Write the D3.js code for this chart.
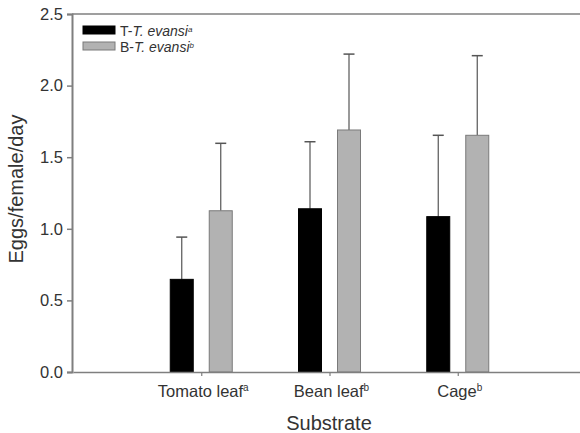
<!DOCTYPE html>
<html>
<head>
<meta charset="utf-8">
<script src="https://cdn.jsdelivr.net/npm/d3@7"></script>
<style>
  body { margin: 0; background: #fff; }
  text { font-family: "Liberation Sans", Arial, sans-serif; fill: #333; }
</style>
</head>
<body>
<svg id="chart" width="580" height="433"></svg>
<script>
// Chart data
const categories = ["Tomato leaf", "Bean leaf", "Cage"];
const catSup = ["a", "b", "b"];
const seriesNames = ["T-", "B-"];
const seriesSup = ["a", "b"];
const tEvansi = [0.647, 1.14, 1.085];
const tEvansiErr = [0.295, 0.468, 0.568];
const bEvansi = [1.126, 1.69, 1.653];
const bEvansiErr = [0.471, 0.53, 0.556];
const yTicks = [0, 0.5, 1.0, 1.5, 2.0, 2.5];

const width = 580;
const height = 433;
const margin = { top: 14, right: 0, bottom: 61, left: 72 };
const axisColor = "#7f7f7f";

const svg = d3.select("#chart");

// Scales: categories sit at positions 1..3 on a 0..4 axis
const xScale = d3.scaleLinear()
    .domain([0, 4])
    .range([margin.left + 1, 586]);

const yScale = d3.scaleLinear()
    .domain([0, 2.5])
    .range([height - margin.bottom, margin.top]);

const barW = 23;
const offset = 19.5;   // half distance between bar centres in a group

const series = [
    { vals: tEvansi, err: tEvansiErr, fill: "#000", stroke: "#000", dx: -offset },
    { vals: bEvansi, err: bEvansiErr, fill: "#b2b2b2", stroke: "#7a7a7a", dx: offset }
];

// Error bars (upper only), drawn behind bars
series.forEach(s => {
    const g = svg.append("g");
    s.vals.forEach((v, i) => {
        const cx = xScale(i + 1) + s.dx;
        g.append("line")
            .attr("x1", cx).attr("x2", cx)
            .attr("y1", yScale(v)).attr("y2", yScale(v + s.err[i]))
            .attr("stroke", "#555").attr("stroke-width", 1.2);
        g.append("line")
            .attr("x1", cx - 5.5).attr("x2", cx + 5.5)
            .attr("y1", yScale(v + s.err[i])).attr("y2", yScale(v + s.err[i]))
            .attr("stroke", "#555").attr("stroke-width", 1.5);
    });
});

// Bars
series.forEach(s => {
    svg.append("g")
        .selectAll("rect")
        .data(s.vals)
        .join("rect")
        .attr("x", (d, i) => xScale(i + 1) + s.dx - barW / 2)
        .attr("y", d => yScale(d))
        .attr("width", barW)
        .attr("height", d => yScale(0) - yScale(d))
        .attr("fill", s.fill)
        .attr("stroke", s.stroke)
        .attr("stroke-width", 1);
});

// Y axis
const yAxis = svg.append("g")
    .attr("transform", `translate(${margin.left},0)`)
    .call(d3.axisLeft(yScale).tickValues(yTicks).tickFormat(d3.format(".1f")).tickSizeOuter(0).tickSize(5).tickPadding(4));
yAxis.select(".domain").attr("stroke", axisColor).attr("stroke-width", 2);
yAxis.selectAll(".tick line").attr("stroke", axisColor).attr("stroke-width", 1.5);
yAxis.selectAll(".tick text").style("font-size", "16.5px").attr("fill", "#333");

// X axis
const xAxis = svg.append("g")
    .attr("transform", `translate(0,${yScale(0)})`)
    .call(d3.axisBottom(xScale).tickValues([1, 2, 3]).tickFormat("").tickSize(4).tickSizeOuter(0));
xAxis.select(".domain").attr("stroke", axisColor).attr("stroke-width", 1.5);
xAxis.selectAll(".tick line").attr("stroke", axisColor).attr("stroke-width", 1.2);

// Top frame line
svg.append("line")
    .attr("x1", margin.left).attr("x2", width)
    .attr("y1", yScale(2.5)).attr("y2", yScale(2.5))
    .attr("stroke", axisColor).attr("stroke-width", 1.5);

// Category labels with superscripts
categories.forEach((c, i) => {
    const t = svg.append("text")
        .attr("x", xScale(i + 1) + 2)
        .attr("y", yScale(0) + 25)
        .attr("text-anchor", "middle")
        .style("font-size", "16.5px");
    t.append("tspan").text(c);
    t.append("tspan").text(catSup[i]).attr("dy", -6).style("font-size", "10px");
});

// Axis titles
svg.append("text")
    .attr("x", 329)
    .attr("y", 430)
    .attr("text-anchor", "middle")
    .style("font-size", "20px")
    .text("Substrate");

svg.append("text")
    .attr("transform", "translate(23,189) rotate(-90)")
    .attr("text-anchor", "middle")
    .style("font-size", "20px")
    .text("Eggs/female/day");

// Legend
const legend = svg.append("g").attr("transform", "translate(83,26)");
series.forEach((s, i) => {
    const g = legend.append("g").attr("transform", `translate(0,${i * 16})`);
    g.append("rect")
        .attr("width", 32).attr("height", 8)
        .attr("fill", s.fill).attr("stroke", s.stroke);
    const t = g.append("text").attr("x", 37).attr("y", 9.5).style("font-size", "14px");
    t.append("tspan").text(seriesNames[i]);
    t.append("tspan").text("T. evansi").style("font-style", "italic");
    t.append("tspan").text(seriesSup[i]).attr("dy", -4).style("font-size", "8px").style("font-style", "italic");
});
</script>
</body>
</html>
